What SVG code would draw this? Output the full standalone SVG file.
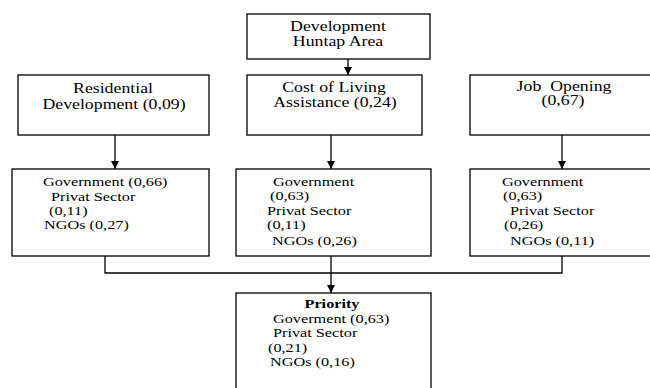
<svg xmlns="http://www.w3.org/2000/svg" width="650" height="388" viewBox="0 0 650 388">
<defs>
<style>
.box{fill:#fff;stroke:#000;stroke-width:1.3}
.ln{fill:none;stroke:#000;stroke-width:1.3}
.t{font-size:14px;fill:#000}
.s{font-size:13px;fill:#000}
.c{text-anchor:middle}
.b{font-weight:bold}
</style>
<marker id="ah" markerWidth="8" markerHeight="8" refX="8" refY="4" orient="auto" markerUnits="userSpaceOnUse">
<path d="M0,0 L8,4 L0,8 Z" fill="#000"/>
</marker>
</defs>
<rect width="650" height="388" fill="#fff"/>
<g id="connectors">
<line class="ln" x1="348" y1="59" x2="348" y2="75" marker-end="url(#ah)"/>
<line class="ln" x1="115" y1="135" x2="115" y2="169" marker-end="url(#ah)"/>
<line class="ln" x1="331" y1="135" x2="331" y2="169" marker-end="url(#ah)"/>
<line class="ln" x1="562" y1="135" x2="562" y2="169" marker-end="url(#ah)"/>
<polyline class="ln" points="105,256 105,273 562,273 562,256"/>
<line class="ln" x1="331" y1="256" x2="331" y2="273"/>
<line class="ln" x1="331" y1="273" x2="331" y2="293" marker-end="url(#ah)"/>
</g>
<g font-family="'Liberation Serif', 'Times New Roman', 'DejaVu Serif', serif">
<g id="top">
<rect class="box" x="247" y="14" width="183" height="45"/>
<text class="t c" transform="translate(338,31) scale(1.27,1)">Development</text>
<text class="t c" transform="translate(338,46) scale(1.27,1)">Huntap Area</text>
</g>
<g id="residential">
<rect class="box" x="18" y="75" width="191" height="60"/>
<text class="t c" transform="translate(113,93) scale(1.27,1)">Residential</text>
<text class="t c" transform="translate(114,109) scale(1.27,1)">Development (0,09)</text>
</g>
<g id="cost">
<rect class="box" x="247" y="75" width="175" height="60"/>
<text class="t c" transform="translate(334,92) scale(1.27,1)">Cost of Living</text>
<text class="t c" transform="translate(335,107) scale(1.27,1)">Assistance (0,24)</text>
</g>
<g id="job">
<rect class="box" x="470" y="75" width="190" height="60"/>
<text class="t c" transform="translate(564,91) scale(1.27,1)" xml:space="preserve">Job  Opening</text>
<text class="t c" transform="translate(563,105) scale(1.27,1)">(0,67)</text>
</g>
<g id="left-actors">
<rect class="box" x="12" y="169" width="197" height="87"/>
<text class="s" transform="translate(43,186) scale(1.25,1)">Government (0,66)</text>
<text class="s" transform="translate(51,201) scale(1.25,1)">Privat Sector</text>
<text class="s" transform="translate(49,215) scale(1.25,1)">(0,11)</text>
<text class="s" transform="translate(44,229) scale(1.25,1)">NGOs (0,27)</text>
</g>
<g id="middle-actors">
<rect class="box" x="236" y="169" width="195" height="87"/>
<text class="s" transform="translate(273,186) scale(1.25,1)">Government</text>
<text class="s" transform="translate(270,200) scale(1.25,1)">(0,63)</text>
<text class="s" transform="translate(267,215) scale(1.25,1)">Privat Sector</text>
<text class="s" transform="translate(267,229) scale(1.25,1)">(0,11)</text>
<text class="s" transform="translate(272,245) scale(1.25,1)">NGOs (0,26)</text>
</g>
<g id="right-actors">
<rect class="box" x="470" y="169" width="190" height="87"/>
<text class="s" transform="translate(502,186) scale(1.25,1)">Government</text>
<text class="s" transform="translate(503,200) scale(1.25,1)">(0,63)</text>
<text class="s" transform="translate(510,215) scale(1.25,1)">Privat Sector</text>
<text class="s" transform="translate(504,229) scale(1.25,1)">(0,26)</text>
<text class="s" transform="translate(510,245) scale(1.25,1)">NGOs (0,11)</text>
</g>
<g id="priority">
<rect class="box" x="236" y="293" width="195" height="110"/>
<text class="s b c" transform="translate(332,308) scale(1.25,1)">Priority</text>
<text class="s" transform="translate(273,323) scale(1.25,1)">Goverment (0,63)</text>
<text class="s" transform="translate(273,337) scale(1.25,1)">Privat Sector</text>
<text class="s" transform="translate(268,352) scale(1.25,1)">(0,21)</text>
<text class="s" transform="translate(270,366) scale(1.25,1)">NGOs (0,16)</text>
</g>
</g>
</svg>
